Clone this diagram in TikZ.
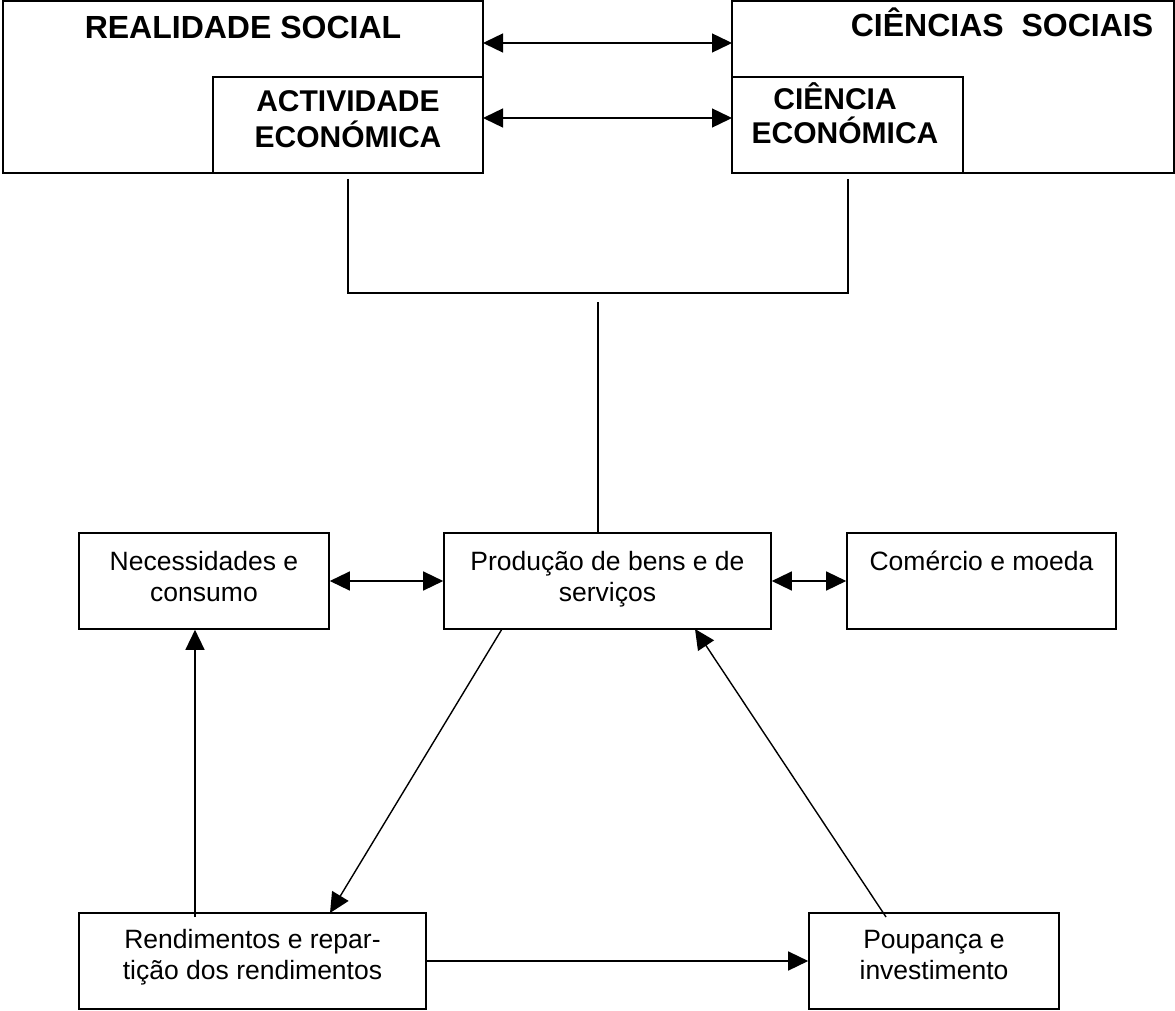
\documentclass[tikz,border=0pt]{standalone}
\usepackage{fontspec}
\setmainfont{Liberation Sans}
\usetikzlibrary{arrows.meta}
\begin{document}
\begin{tikzpicture}[x=1pt,y=-1pt,
  boxline/.style={draw=black,line width=1.6pt},
  conn/.style={draw=black,line width=1.4pt},
  tip/.style={-{Triangle[length=20pt,width=19pt]}},
  dtip/.style={{Triangle[length=20pt,width=19pt]}-{Triangle[length=20pt,width=19pt]}},
  titletext/.style={font=\fontsize{30}{36}\selectfont\bfseries,align=center,inner sep=0pt},
  bigtitle/.style={font=\fontsize{32}{36}\selectfont\bfseries,align=center,inner sep=0pt},
  bodytext/.style={font=\fontsize{26.5}{30.5}\selectfont,align=center,inner sep=0pt}]
\useasboundingbox (0,0) rectangle (1175,1011);
% top boxes
\draw[boxline] (3,1) rectangle (483,173);
\draw[boxline] (213,77) rectangle (483,173);
\draw[boxline] (732,1) rectangle (1174,173);
\draw[boxline] (732,77) rectangle (963,173);
\node[bigtitle,anchor=base] (rs) at (243,39) {REALIDADE SOCIAL};
\node[titletext,anchor=base] (ae) at (348,148) {ACTIVIDADE\\ECONÓMICA};
\node[bigtitle,anchor=base] (cs) at (1002,37) {CIÊNCIAS\ \ SOCIAIS};
\node[titletext,anchor=base,font=\fontsize{30}{34}\selectfont\bfseries] (ce) at (845,144) {\makebox[0pt]{\hspace*{-20pt}CIÊNCIA}\\ECONÓMICA};
\coordinate (a1l) at (483,43);
\coordinate (a1r) at (732,43);
\coordinate (a2l) at (483,118);
\coordinate (a2r) at (732,118);
\draw[conn,dtip] (a1l) -- (a1r);
\draw[conn,dtip] (a2l) -- (a2r);
% bracket
\coordinate (bl) at (348,179);
\coordinate (br) at (848,179);
\coordinate (bcl) at (348,293);
\coordinate (bcr) at (848,293);
\draw[conn] (bl) -- (bcl) -- (bcr) -- (br);
% bottom boxes
\node[boxline,minimum width=250pt,minimum height=96pt,inner sep=0pt] (nec) at (204,581) {};
\node[boxline,minimum width=327pt,minimum height=96pt,inner sep=0pt] (prod) at (607.5,581) {};
\node[boxline,minimum width=269pt,minimum height=96pt,inner sep=0pt] (com) at (981.5,581) {};
\node[boxline,minimum width=347pt,minimum height=96pt,inner sep=0pt] (rend) at (252.5,961) {};
\node[boxline,minimum width=250pt,minimum height=96pt,inner sep=0pt] (poup) at (934,961) {};
\node[bodytext,anchor=base] at (204,601) {Necessidades e\\consumo};
\node[bodytext,anchor=base] at (607.5,601) {Produção de bens e de\\serviços};
\node[bodytext,anchor=base] at (981.5,570) {Comércio e moeda};
\node[bodytext,anchor=base] at (252.5,979) {Rendimentos e repar-\\tição dos rendimentos};
\node[bodytext,anchor=base] at (934,979) {Poupança e\\investimento};
\coordinate (pc) at (598,302);
\draw[conn] (pc) -- (prod.north -| pc);
\draw[conn,dtip] (nec.east) -- (prod.west);
\draw[conn,dtip] (prod.east) -- (com.west);
\coordinate (rv) at (195,917);
\draw[conn,tip] (rv) -- (nec.south -| rv);
\coordinate (pd) at (502,629);
\coordinate (rt) at (330,913);
\draw[conn,tip] (pd) -- (rt);
\coordinate (pu) at (886,917);
\coordinate (pt) at (695,629);
\draw[conn,tip] (pu) -- (pt);
\draw[conn,tip] (rend.east) -- (poup.west);
\end{tikzpicture}
\end{document}
